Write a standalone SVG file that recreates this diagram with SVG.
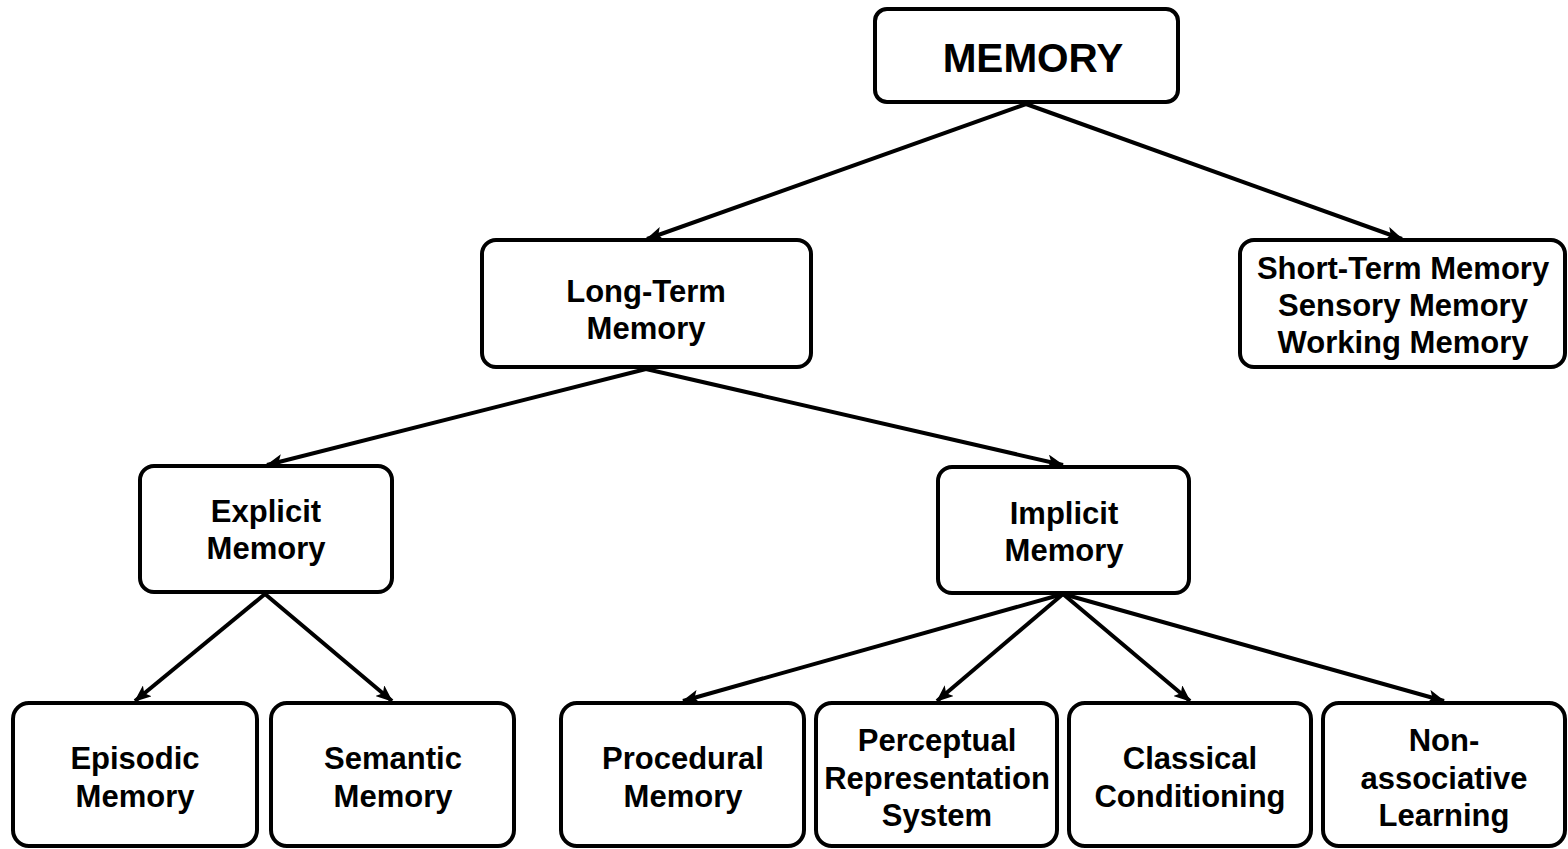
<svg xmlns="http://www.w3.org/2000/svg" width="1568" height="849" viewBox="0 0 1568 849">
<style>
.box{fill:#fff;stroke:#000;stroke-width:4}
.c{stroke:#000;stroke-width:4;fill:none;marker-end:url(#ah)}
</style>
<defs>
<marker id="ah" markerWidth="18" markerHeight="14" refX="16" refY="7" orient="auto" markerUnits="userSpaceOnUse">
<path d="M0,0 L17,7 L0,14 L4,7 Z" fill="#000"/>
</marker>
</defs>
<rect width="1568" height="849" fill="#fff"/>
<g id="connectors">
<line class="c" x1="1026" y1="104" x2="647" y2="239"/>
<line class="c" x1="1026" y1="104" x2="1402" y2="239"/>
<line class="c" x1="646" y1="369" x2="267" y2="465"/>
<line class="c" x1="646" y1="369" x2="1063" y2="465"/>
<line class="c" x1="265" y1="594" x2="135" y2="701"/>
<line class="c" x1="265" y1="594" x2="392" y2="701"/>
<line class="c" x1="1063" y1="594" x2="683" y2="701"/>
<line class="c" x1="1063" y1="594" x2="937" y2="701"/>
<line class="c" x1="1063" y1="594" x2="1190" y2="701"/>
<line class="c" x1="1063" y1="594" x2="1444" y2="701"/>
</g>
<g id="nodes" font-family="Liberation Sans, Arial, sans-serif" font-weight="bold" font-size="31" text-anchor="middle" fill="#000">
<g id="memory">
<rect class="box" x="875" y="9" width="303" height="93" rx="12"/>
<text x="1033" y="72" font-size="40.5">MEMORY</text>
</g>
<g id="long-term">
<rect class="box" x="482" y="240" width="329" height="127" rx="14"/>
<text x="646" y="302">Long-Term</text>
<text x="646" y="339">Memory</text>
</g>
<g id="short-term">
<rect class="box" x="1240" y="240" width="325" height="127" rx="14"/>
<text x="1403" y="279">Short-Term Memory</text>
<text x="1403" y="316">Sensory Memory</text>
<text x="1403" y="353">Working Memory</text>
</g>
<g id="explicit">
<rect class="box" x="140" y="466" width="252" height="126" rx="14"/>
<text x="266" y="522">Explicit</text>
<text x="266" y="559">Memory</text>
</g>
<g id="implicit">
<rect class="box" x="938" y="467" width="251" height="126" rx="14"/>
<text x="1064" y="524">Implicit</text>
<text x="1064" y="561">Memory</text>
</g>
<g id="episodic">
<rect class="box" x="13" y="703" width="244" height="143" rx="16"/>
<text x="135" y="769">Episodic</text>
<text x="135" y="807">Memory</text>
</g>
<g id="semantic">
<rect class="box" x="271" y="703" width="243" height="143" rx="16"/>
<text x="393" y="769">Semantic</text>
<text x="393" y="807">Memory</text>
</g>
<g id="procedural">
<rect class="box" x="561" y="703" width="243" height="143" rx="16"/>
<text x="683" y="769">Procedural</text>
<text x="683" y="807">Memory</text>
</g>
<g id="perceptual">
<rect class="box" x="816" y="703" width="241" height="143" rx="16"/>
<text x="937" y="751">Perceptual</text>
<text x="937" y="789">Representation</text>
<text x="937" y="826">System</text>
</g>
<g id="classical">
<rect class="box" x="1069" y="703" width="242" height="143" rx="16"/>
<text x="1190" y="769">Classical</text>
<text x="1190" y="807">Conditioning</text>
</g>
<g id="nonassociative">
<rect class="box" x="1323" y="703" width="242" height="143" rx="16"/>
<text x="1444" y="751">Non-</text>
<text x="1444" y="789">associative</text>
<text x="1444" y="826">Learning</text>
</g>
</g>
</svg>
